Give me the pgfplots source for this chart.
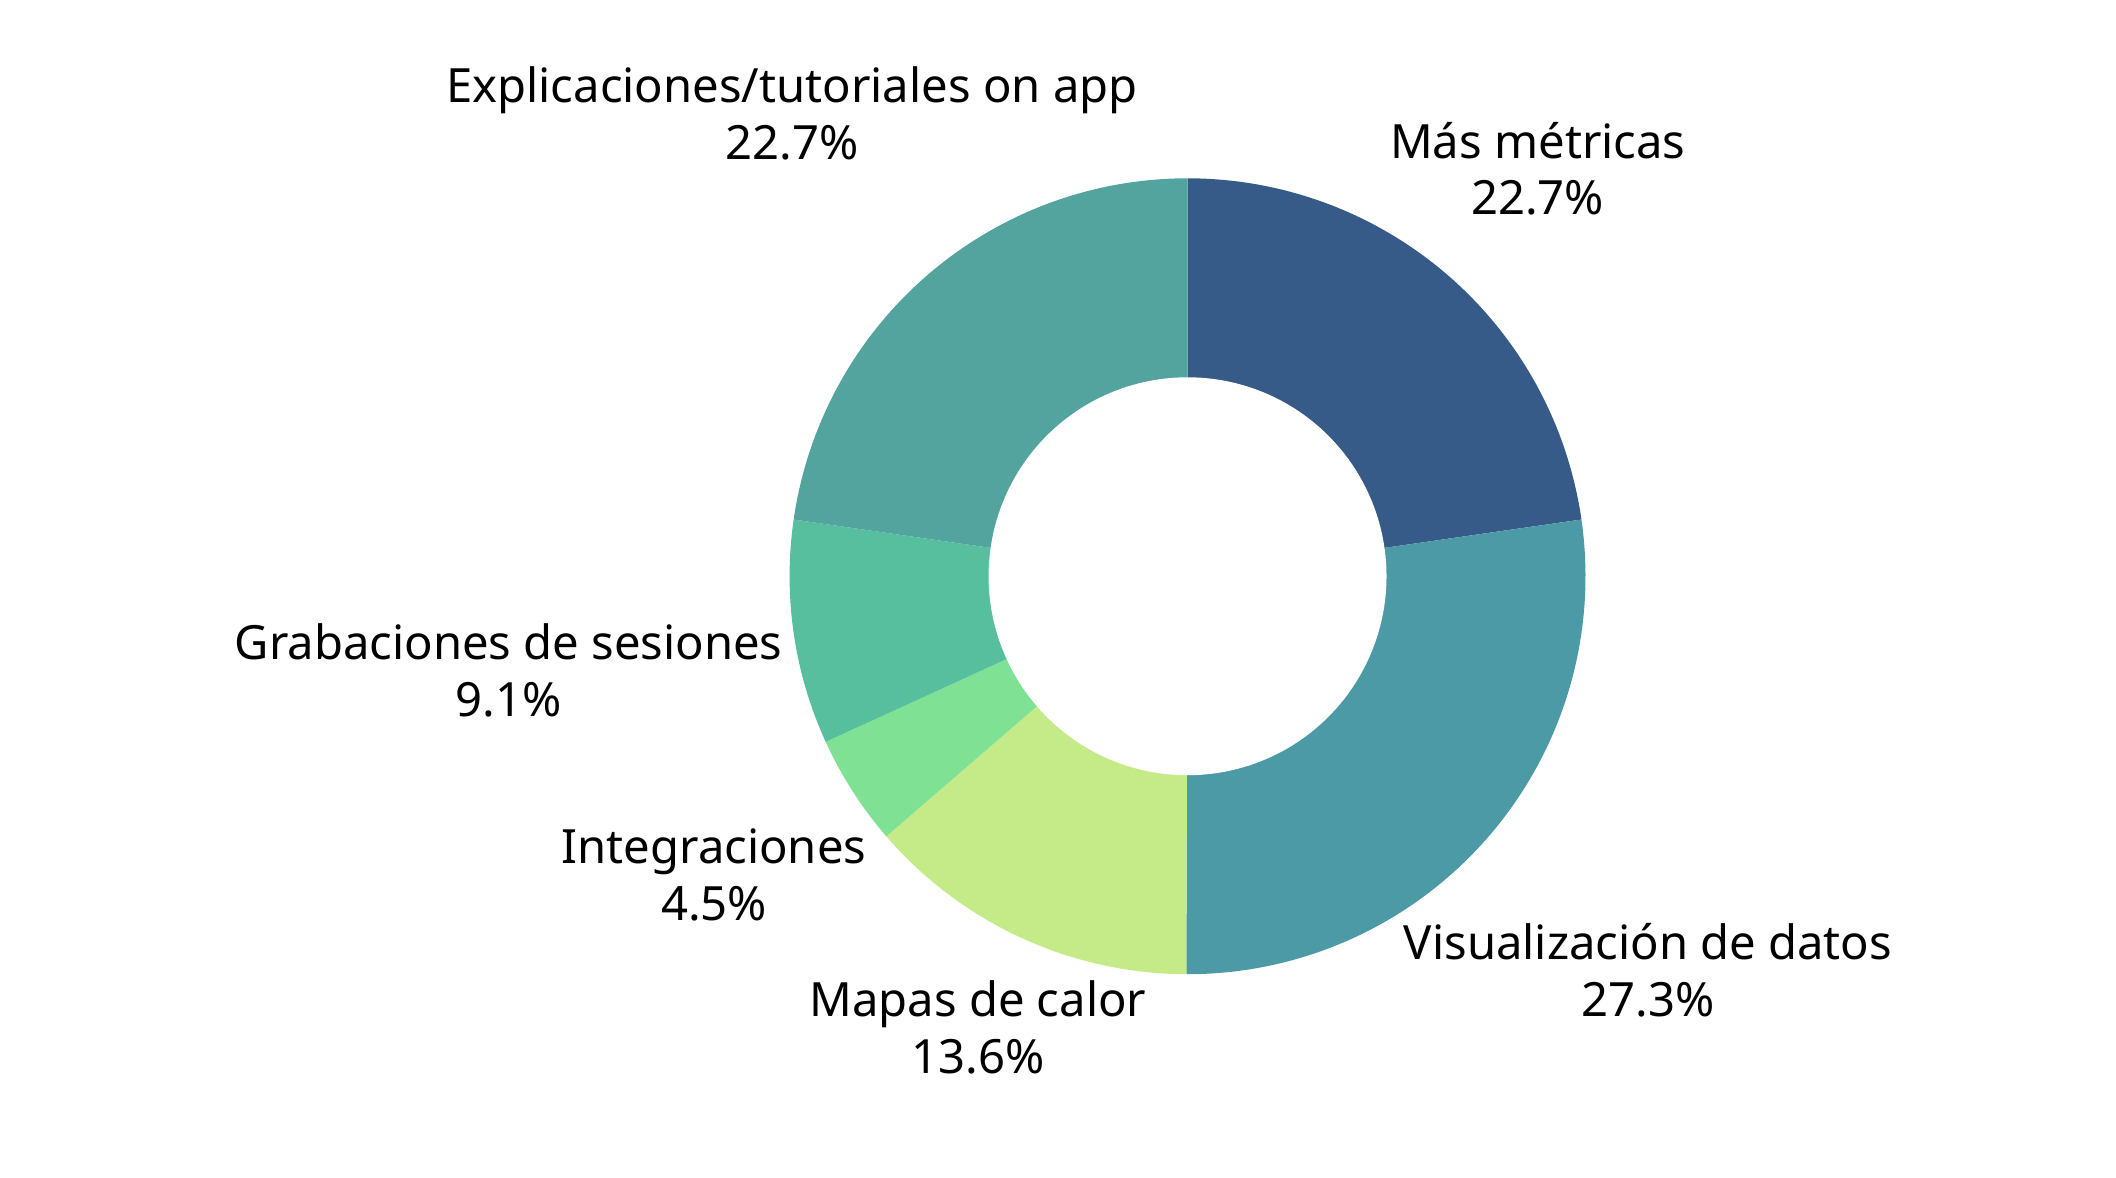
\documentclass[border=0pt]{standalone}
\usepackage{fontspec}
\setmainfont{Noto Sans}
\usepackage{pgfplots}
\usepackage{pgfplotstable}
\pgfplotsset{compat=1.18}

\definecolor{c0}{HTML}{375B88}
\definecolor{c1}{HTML}{4C9AA6}
\definecolor{c2}{HTML}{C4EB88}
\definecolor{c3}{HTML}{7EE193}
\definecolor{c4}{HTML}{57BF9D}
\definecolor{c5}{HTML}{53A39E}

% slices clockwise from 12 o'clock; lx, ly = label centre (outer radius = 1)
\pgfplotstableread[col sep=comma]{
label,pct,lx,ly
Más métricas,22.7,0.880,1.024
Visualización de datos,27.3,1.157,-0.989
Mapas de calor,13.6,-0.527,-1.134
Integraciones,4.5,-1.190,-0.751
Grabaciones de sesiones,9.1,-1.706,-0.237
Explicaciones/tutoriales on app,22.7,-0.994,1.164
}\donut

\def\total{0}%
\pgfplotsforeachungrouped \i in {0,...,5}{%
  \pgfplotstablegetelem{\i}{pct}\of\donut
  \pgfmathsetmacro\total{\total+\pgfplotsretval}%
}%
\def\cur{90}%
\pgfplotsforeachungrouped \i in {0,...,5}{%
  \pgfplotstablegetelem{\i}{pct}\of\donut
  \expandafter\xdef\csname dpc\i\endcsname{\pgfplotsretval}%
  \pgfmathsetmacro\nxt{\cur-360*\pgfplotsretval/\total}%
  \expandafter\xdef\csname dstart\i\endcsname{\cur}%
  \expandafter\xdef\csname dend\i\endcsname{\nxt}%
  \global\let\cur\nxt
  \pgfplotstablegetelem{\i}{label}\of\donut
  \expandafter\xdef\csname dlab\i\endcsname{\pgfplotsretval}%
  \pgfplotstablegetelem{\i}{lx}\of\donut
  \expandafter\xdef\csname dlx\i\endcsname{\pgfplotsretval}%
  \pgfplotstablegetelem{\i}{ly}\of\donut
  \expandafter\xdef\csname dly\i\endcsname{\pgfplotsretval}%
}%

\tikzset{lbl/.style={font=\fontsize{11.8bp}{14.2bp}\selectfont, align=center, inner sep=0pt, text=black}}

\begin{document}
\begin{tikzpicture}
\begin{axis}[
    scale only axis, width=529bp, height=294.5bp,
    xmin=-2.984, xmax=2.333, ymin=-1.512, ymax=1.448,
    hide axis, clip=false]
  \pgfplotsinvokeforeach{0,...,5}{%
    \edef\temp{\noexpand\addplot[draw=none, fill=c#1,
        domain=\csname dend#1\endcsname:\csname dstart#1\endcsname,
        samples=90, variable=\noexpand\t]
      ({cos(\noexpand\t)},{sin(\noexpand\t)}) -- (axis cs:0,0) -- cycle;}%
    \temp
  }
  % hole
  \addplot[draw=none, fill=white, domain=0:360, samples=181] ({0.5*cos(x)},{0.5*sin(x)});
  \pgfplotsinvokeforeach{0,...,5}{%
    \node[lbl] at (axis cs:\csname dlx#1\endcsname,\csname dly#1\endcsname)
      {\csname dlab#1\endcsname\\\csname dpc#1\endcsname\%};
  }
  \path (rel axis cs:0,0) rectangle (rel axis cs:1,1);
\end{axis}
\end{tikzpicture}
\end{document}
